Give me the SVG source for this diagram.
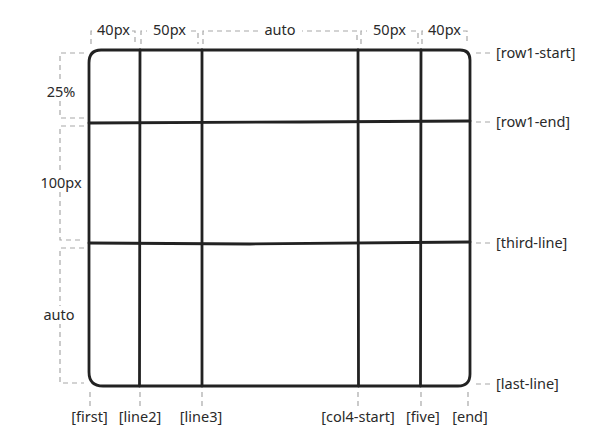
<svg xmlns="http://www.w3.org/2000/svg" width="600" height="442" viewBox="0 0 600 442">
<style>
.grid{fill:none;stroke:#222;stroke-width:2.8;stroke-linecap:round;stroke-linejoin:round}
.dim{fill:none;stroke:#a8a8a8;stroke-width:1.2;stroke-dasharray:5 4}
.lbl{font-family:"Noto Sans","Liberation Sans",sans-serif;font-size:14.5px;fill:#2a2a2a}
.mask{fill:#fff}
</style>
<rect width="600" height="442" fill="#fff"/>
<g id="grid">
<path class="grid" d="M101,50 L460,50 Q470,50 470,60 L470,374 Q470,386 458,386 L103,386 Q89,386 89,372 L89,63 Q89,50 101,50 Z"/>
<g id="col-lines">
<path class="grid" d="M140,50 L139.5,386"/>
<path class="grid" d="M202,50 L202,386"/>
<path class="grid" d="M358,50 L358.5,386"/>
<path class="grid" d="M421,50 L420.5,386"/>
</g>
<g id="row-lines">
<path class="grid" d="M89,123 L300,122 L470,121"/>
<path class="grid" d="M89,243 L250,244 L470,242"/>
</g>
</g>
<g id="top-dims">
<path class="dim" d="M91,44 V31 H135 V44"/>
<rect class="mask" x="95" y="22" width="37" height="18"/>
<text class="lbl" x="113.5" y="35" text-anchor="middle">40px</text>
<path class="dim" d="M141,44 V31 H198 V44"/>
<rect class="mask" x="147" y="22" width="44" height="18"/>
<text class="lbl" x="169.5" y="35" text-anchor="middle">50px</text>
<path class="dim" d="M203,44 V31 H357 V44"/>
<rect class="mask" x="258" y="22" width="44" height="18"/>
<text class="lbl" x="280" y="35" text-anchor="middle">auto</text>
<path class="dim" d="M361,44 V31 H418 V44"/>
<rect class="mask" x="367" y="22" width="44" height="18"/>
<text class="lbl" x="389.5" y="35" text-anchor="middle">50px</text>
<path class="dim" d="M422,44 V31 H467 V44"/>
<rect class="mask" x="426" y="22" width="37" height="18"/>
<text class="lbl" x="444.5" y="35" text-anchor="middle">40px</text>
</g>
<g id="left-dims">
<path class="dim" d="M84,53 H60 V118 H84"/>
<rect class="mask" x="43" y="83" width="36" height="18"/>
<text class="lbl" x="61" y="97" text-anchor="middle">25%</text>
<path class="dim" d="M84,126 H60 V240 H84"/>
<rect class="mask" x="38" y="174" width="46" height="18"/>
<text class="lbl" x="61" y="188" text-anchor="middle">100px</text>
<path class="dim" d="M84,248 H60 V383 H84"/>
<rect class="mask" x="40" y="306" width="38" height="18"/>
<text class="lbl" x="59" y="320" text-anchor="middle">auto</text>
</g>
<g id="right-labels">
<path class="dim" d="M476,53 H492"/>
<text class="lbl" x="496" y="58">[row1-start]</text>
<path class="dim" d="M476,122 H492"/>
<text class="lbl" x="496" y="127">[row1-end]</text>
<path class="dim" d="M476,243 H492"/>
<text class="lbl" x="496" y="248">[third-line]</text>
<path class="dim" d="M476,384 H492"/>
<text class="lbl" x="496" y="389">[last-line]</text>
</g>
<g id="bottom-labels">
<path class="dim" d="M90,392 V408 M140,392 V408 M202,392 V408 M358,392 V408 M421,392 V408 M468,392 V408"/>
<text class="lbl" x="89.5" y="422" text-anchor="middle">[first]</text>
<text class="lbl" x="140" y="422" text-anchor="middle">[line2]</text>
<text class="lbl" x="201" y="422" text-anchor="middle">[line3]</text>
<text class="lbl" x="358" y="422" text-anchor="middle">[col4-start]</text>
<text class="lbl" x="423" y="422" text-anchor="middle">[five]</text>
<text class="lbl" x="470" y="422" text-anchor="middle">[end]</text>
</g>
</svg>
